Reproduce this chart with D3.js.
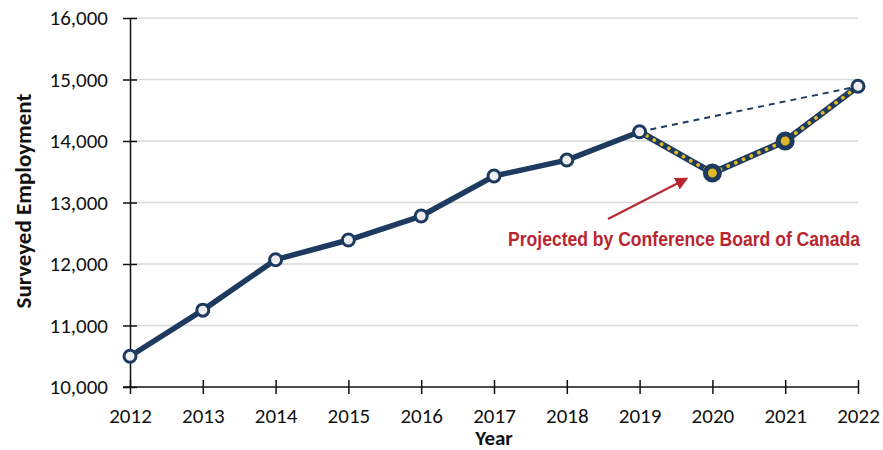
<!DOCTYPE html>
<meta charset="utf-8">
<style>
  body { margin: 0; background: #fff; }
  text { font-family: Carlito, Calibri, Lato, "Open Sans", sans-serif; fill: #111; }
  .grid line { stroke: #d9d9d9; stroke-width: 1.5; }
  .axis path, .axis line { stroke: #111; stroke-width: 1.5; }
</style>
<body>
<script src="https://cdn.jsdelivr.net/npm/d3@7"></script>
<script>

var years = [2012, 2013, 2014, 2015, 2016, 2017, 2018, 2019, 2020, 2021, 2022];
var employment = [10500, 11250, 12070, 12390, 12780, 13430, 13690, 14150, 13480, 14000, 14890];
var projectedFrom = 2019;
var yTicks = [10000, 11000, 12000, 13000, 14000, 15000, 16000];

var width = 883, height = 450;
var margin = {top: 18, right: 25, bottom: 63, left: 130};

var navy = "#1d3a5f", yellow = "#e3b826", red = "#b8262f";

var data = years.map(function(y, i) { return {year: y, value: employment[i]}; });
var actual = data.filter(function(d) { return d.year <= projectedFrom; });
var projected = data.filter(function(d) { return d.year >= projectedFrom; });

var x = d3.scaleLinear()
    .domain([2012, 2022])
    .range([margin.left, width - margin.right]);

var y = d3.scaleLinear()
    .domain([10000, 16000])
    .range([height - margin.bottom, margin.top]);

var svg = d3.select("body").append("svg")
    .attr("width", width)
    .attr("height", height);

// gridlines
svg.append("g").attr("class", "grid")
  .selectAll("line")
  .data(yTicks.slice(1))
  .enter().append("line")
    .attr("x1", x(2012)).attr("x2", x(2022))
    .attr("y1", function(d) { return y(d); })
    .attr("y2", function(d) { return y(d); });

// y axis, ticks cross the line
var yAxis = svg.append("g").attr("class", "axis")
    .attr("transform", "translate(" + x(2012) + ",0)")
    .call(d3.axisLeft(y).tickValues(yTicks).tickFormat(d3.format(",d")).tickSizeOuter(0));
yAxis.attr("font-family", null).attr("font-size", null);
yAxis.selectAll(".tick line").attr("x1", 7).attr("x2", -7);
yAxis.selectAll(".tick text")
    .attr("x", -22).attr("dy", "0.33em")
    .style("font-size", "21px");

var xAxis = svg.append("g").attr("class", "axis")
    .attr("transform", "translate(0," + y(10000) + ")")
    .call(d3.axisBottom(x).tickValues(years).tickFormat(d3.format("d")).tickSizeOuter(0));
xAxis.attr("font-family", null).attr("font-size", null);
xAxis.selectAll(".tick line").attr("y1", -7).attr("y2", 7);
xAxis.selectAll(".tick text")
    .attr("y", 36).attr("dy", 0)
    .style("font-size", "21px");
xAxis.select(".domain").attr("d", "M" + (x(2012) - 7) + ",0H" + x(2022));

// axis titles
svg.append("text")
    .attr("transform", "translate(31,201)rotate(-90)")
    .attr("text-anchor", "middle")
    .style("font-size", "23px").style("font-weight", "bold")
    .text("Surveyed Employment");

svg.append("text")
    .attr("x", (x(2012) + x(2022)) / 2)
    .attr("y", 445)
    .attr("text-anchor", "middle")
    .style("font-size", "21px").style("font-weight", "bold")
    .text("Year");

var line = d3.line()
    .x(function(d) { return x(d.year); })
    .y(function(d) { return y(d.value); });

// dashed trend from 2019 to 2022
var ends = [projected[0], projected[projected.length - 1]];
svg.append("path")
    .attr("d", line(ends))
    .attr("fill", "none")
    .attr("stroke", navy)
    .attr("stroke-width", 2)
    .attr("stroke-dasharray", "6,5");

// actual line
svg.append("path")
    .attr("d", line(actual))
    .attr("fill", "none")
    .attr("stroke", navy)
    .attr("stroke-width", 5.5)
    .attr("stroke-linejoin", "round");

// projected line
svg.append("path")
    .attr("d", line(projected))
    .attr("fill", "none")
    .attr("stroke", navy)
    .attr("stroke-width", 6.5)
    .attr("stroke-linejoin", "round");
svg.append("path")
    .attr("d", line(projected))
    .attr("fill", "none")
    .attr("stroke", yellow)
    .attr("stroke-width", 3.8)
    .attr("stroke-linecap", "round")
    .attr("stroke-dasharray", "0.1,8.3");

// markers
var filled = function(d) { return d.year > projectedFrom && d.year < 2022; };
svg.selectAll(".pt")
  .data(data)
  .enter().append("circle")
    .attr("class", "pt")
    .attr("cx", function(d) { return x(d.year); })
    .attr("cy", function(d) { return y(d.value); })
    .attr("r", function(d) { return filled(d) ? 7 : 6; })
    .attr("fill", function(d) { return filled(d) ? yellow : "#efefef"; })
    .attr("stroke", navy)
    .attr("stroke-width", function(d) { return filled(d) ? 5 : 3; });

// annotation
svg.append("defs").append("marker")
    .attr("id", "arrow")
    .attr("viewBox", "0 0 10 10")
    .attr("refX", 8).attr("refY", 5)
    .attr("markerWidth", 6.5).attr("markerHeight", 6.5)
    .attr("orient", "auto")
  .append("path")
    .attr("d", "M0,0L10,5L0,10z")
    .attr("fill", red);

svg.append("line")
    .attr("x1", 608).attr("y1", 219)
    .attr("x2", 686).attr("y2", 179)
    .attr("stroke", red)
    .attr("stroke-width", 2)
    .attr("marker-end", "url(#arrow)");

svg.append("text")
    .attr("x", 508)
    .attr("y", 246)
    .attr("textLength", 352)
    .attr("lengthAdjust", "spacingAndGlyphs")
    .style("fill", red)
    .style("font-family", "'Liberation Sans Narrow', 'Arial Narrow', 'Liberation Sans', sans-serif")
    .style("font-size", "20px")
    .style("font-weight", "bold")
    .text("Projected by Conference Board of Canada");

</script>
</body>
</html>
